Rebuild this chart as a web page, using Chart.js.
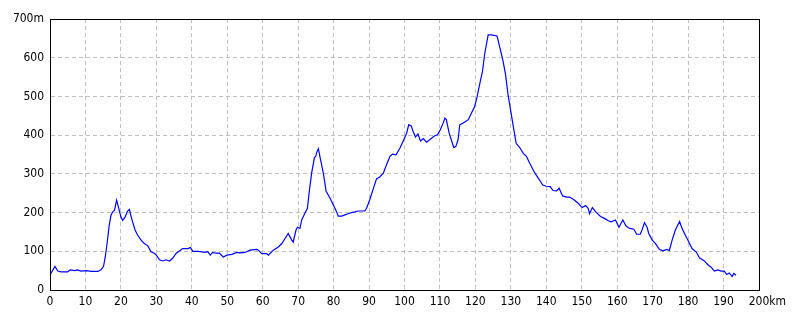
<!DOCTYPE html>
<html>
<head>
<meta charset="utf-8">
<script src="https://cdn.jsdelivr.net/npm/chart.js@4.4.1/dist/chart.umd.min.js"></script>
<style>
  html, body { margin: 0; padding: 0; background: #fff; }
  #wrap { width: 800px; height: 320px; }
</style>
</head>
<body>
<div id="wrap"><canvas id="profileChart" width="800" height="320"></canvas></div>
<script>
// distance along the route (km) and elevation (m)
const distKm = [
  0, 1.4, 2.2, 3.1, 5, 5.7, 6.9, 7.8, 8.7, 10.2, 11.6, 13.5, 14.4, 15.1, 15.6, 16.1, 16.7, 17.2, 17.7, 18.2,
  18.8, 19.3, 20, 20.5, 21.2, 21.9, 22.4, 22.9, 23.3, 24, 24.7, 25.7, 26.6, 27.6, 28.5, 29.4, 29.9, 30.9, 31.8, 32.7,
  33.7, 34.6, 35.6, 36.5, 37.4, 38.9, 39.6, 40.3, 41.7, 42.6, 43.6, 44.5, 45.2, 45.9, 46.8, 47.8, 48.9, 49.9, 51.3, 52.7,
  53.6, 55, 56.4, 58.3, 58.8, 59.7, 61.1, 61.6, 63, 64.4, 65.4, 66.3, 67.2, 68.2, 68.6, 69.4, 69.8, 70.5, 71, 71.9,
  72.6, 73.2, 73.8, 74.6, 75, 75.2, 75.7, 76.2, 77.1, 77.9, 79, 79.9, 80.8, 81.3, 82.3, 83.2, 84.1, 85, 86, 86.9,
  88.8, 89.3, 90.2, 91.2, 92.1, 93, 94, 94.9, 95.9, 96.6, 97.6, 98.7, 99.6, 100.6, 101.2, 101.9, 102.4, 103.1, 103.8, 104.5,
  105.3, 106.2, 107.1, 108.4, 109.3, 110.1, 110.9, 111.4, 111.8, 112.6, 113.2, 113.9, 114.5, 115.1, 115.6, 116.1, 117, 118, 118.9, 119.8,
  120.5, 121.2, 122, 122.6, 123.6, 124.5, 126.1, 126.9, 127.8, 128.5, 129.2, 130, 130.6, 131.5, 132.5, 133.5, 134.4, 135.3, 136.7, 138.1,
  139, 140, 141.1, 141.9, 142.9, 143.6, 144.6, 145.7, 146.6, 147.8, 149, 150.1, 151.1, 151.8, 152.2, 153, 154, 155.3, 156.4, 157.5,
  158.3, 159.5, 160.5, 161.6, 162.5, 163.5, 164.7, 165.5, 166.5, 167, 167.7, 168.4, 168.9, 169.9, 170.8, 171.9, 172.9, 174, 174.7, 175.5,
  176.4, 177.1, 177.6, 178.3, 179.2, 180.2, 181.1, 182.3, 183.2, 184.6, 185.5, 186.5, 187.4, 188.4, 189.3, 190.2, 190.9, 191.6, 192.4, 192.9,
  193.5
];
const elevM = [
  39, 61, 49, 47, 47, 52, 50, 52, 49, 50, 48, 48, 52, 61, 86, 120, 167, 193, 202, 206,
  232, 214, 189, 180, 189, 204, 208, 189, 176, 155, 142, 129, 120, 114, 99, 95, 91, 78, 75, 78,
  75, 82, 95, 101, 107, 107, 110, 100, 100, 99, 97, 99, 90, 97, 95, 95, 85, 90, 92, 97,
  96, 97, 103, 105, 103, 94, 94, 90, 103, 111, 120, 133, 146, 129, 124, 155, 162, 159, 181, 198,
  211, 259, 302, 342, 346, 355, 365, 342, 302, 255, 237, 220, 203, 191, 191, 194, 197, 200, 202, 204,
  204, 211, 233, 262, 287, 292, 301, 323, 345, 351, 349, 366, 384, 405, 427, 424, 410, 395, 403, 385,
  391, 382, 388, 398, 401, 414, 431, 444, 440, 405, 388, 368, 371, 388, 427, 429, 434, 440, 457, 474,
  500, 531, 565, 609, 659, 659, 656, 626, 591, 557, 505, 461, 427, 379, 368, 353, 345, 328, 303, 284,
  271, 268, 267, 257, 256, 263, 243, 240, 240, 233, 224, 213, 218, 211, 197, 213, 201, 190, 185, 179,
  176, 181, 162, 181, 165, 159, 157, 144, 144, 155, 174, 163, 146, 129, 120, 105, 101, 105, 102, 129,
  155, 168, 177, 159, 142, 124, 107, 98, 83, 75, 66, 59, 49, 52, 49, 49, 40, 44, 35, 43,
  38
];

const X_MAX = 200;
const Y_MAX = 700;
const TICK_FONT = { family: '"Liberation Sans Narrow", "DejaVu Sans Condensed", sans-serif', size: 12 };

// black box around the plot and the "km" unit after the last x label
const framePlugin = {
  id: "frame",
  afterDraw(chart) {
    const { ctx, chartArea } = chart;
    ctx.save();
    ctx.strokeStyle = "#000";
    ctx.lineWidth = 1;
    ctx.strokeRect(Math.round(chartArea.left) + 0.5, Math.round(chartArea.top) + 0.5,
      Math.round(chartArea.right - chartArea.left), Math.round(chartArea.bottom - chartArea.top));

    const xScale = chart.scales.x;
    const items = xScale.getLabelItems();
    const last = items[items.length - 1];
    ctx.font = `${TICK_FONT.size}px ${TICK_FONT.family}`;
    ctx.fillStyle = "#000";
    ctx.textBaseline = last.options.textBaseline;
    ctx.textAlign = "left";
    const [tx, ty] = last.options.translation;
    const px = tx + ctx.measureText(String(last.label)).width / 2;
    ctx.fillText("km", px, ty + last.textOffset);
    ctx.restore();
  }
};

document.addEventListener("DOMContentLoaded", () => {
  const ctx = document.getElementById("profileChart").getContext("2d");

  new Chart(ctx, {
    type: "line",
    data: {
      datasets: [{
        data: distKm.map((d, i) => ({ x: d, y: elevM[i] })),
        borderColor: "#0000ff",
        borderWidth: 1.2,
        pointRadius: 0,
        tension: 0,
        fill: false
      }]
    },
    options: {
      responsive: false,
      animation: false,
      layout: { padding: { top: 19, right: 41, left: 0, bottom: 0 } },
      plugins: {
        legend: { display: false },
        tooltip: { enabled: false }
      },
      scales: {
        x: {
          type: "linear",
          min: 0,
          max: X_MAX,
          afterFit: (scale) => { scale.height = 30; },
          grid: { color: "#c0c0c0", drawTicks: false },
          border: { color: "#000", dash: [4, 3] },
          ticks: {
            stepSize: 10,
            color: "#000",
            font: TICK_FONT,
            padding: 5,
            maxRotation: 0,
            autoSkip: false
          }
        },
        y: {
          min: 0,
          max: Y_MAX,
          afterFit: (scale) => { scale.width = 50; },
          grid: { color: "#c0c0c0", drawTicks: false },
          border: { color: "#000", dash: [4, 3] },
          ticks: {
            stepSize: 100,
            color: "#000",
            font: TICK_FONT,
            padding: 6,
            callback: (v) => v === Y_MAX ? v + "m" : v
          }
        }
      }
    },
    plugins: [framePlugin]
  });
});
</script>
</body>
</html>
